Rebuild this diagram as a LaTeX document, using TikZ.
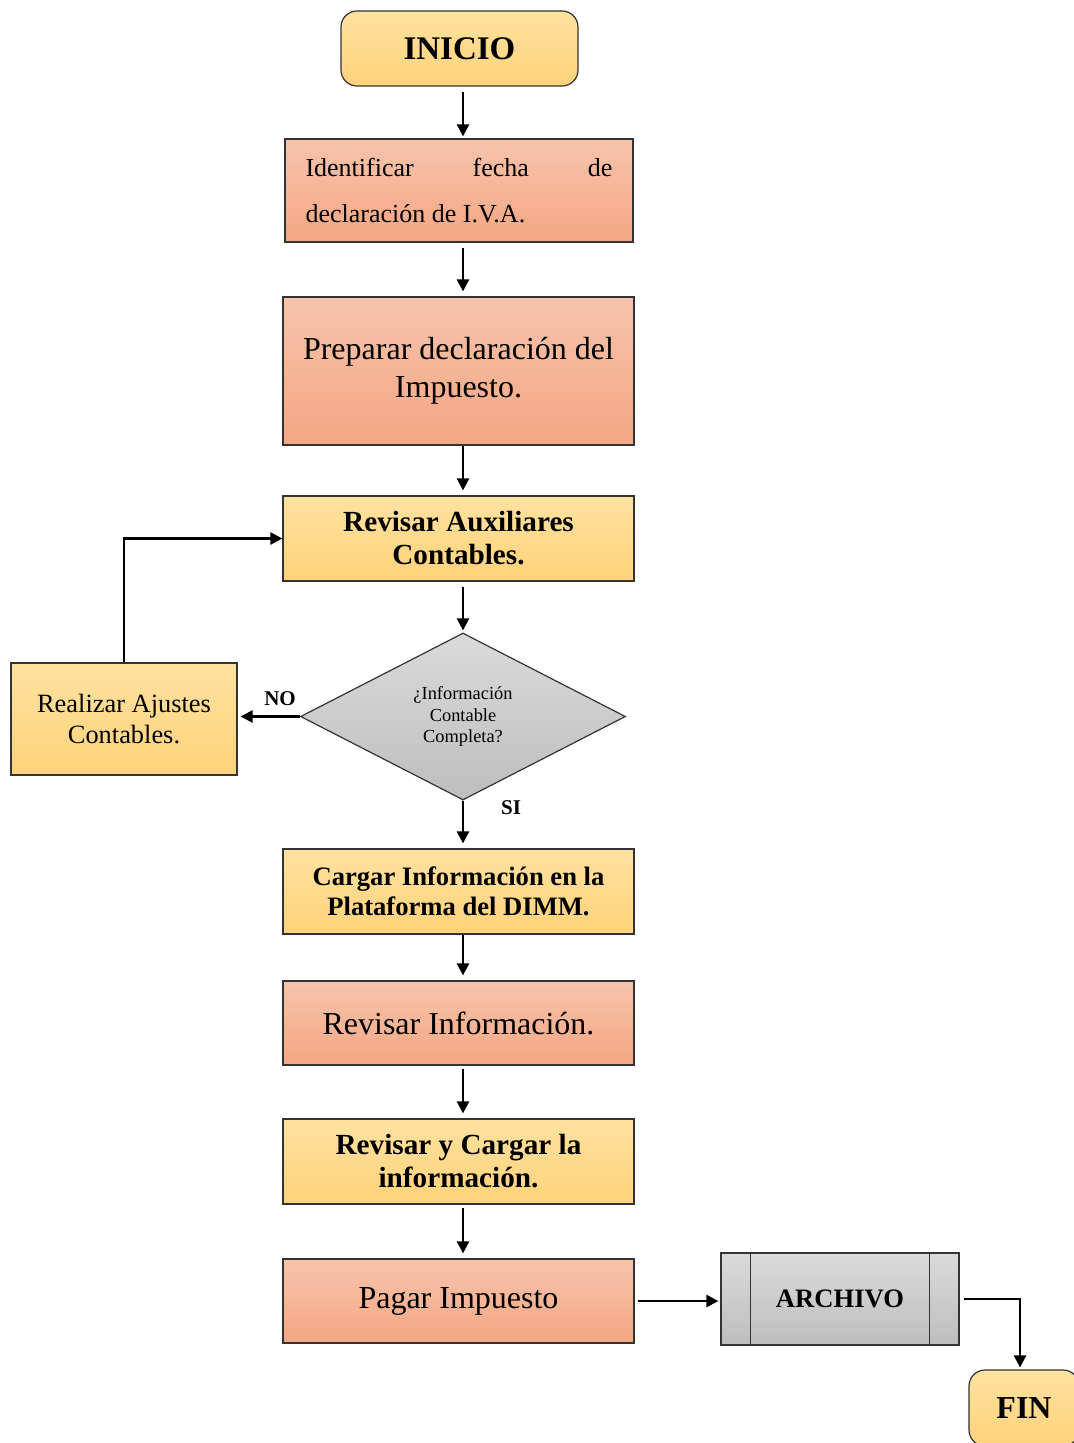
\documentclass[tikz,border=0pt]{standalone}
\usepackage{fontspec}
\setmainfont{Liberation Serif}
\usepackage{tikz}
\usetikzlibrary{shapes,arrows.meta,positioning,calc}

\definecolor{salmontop}{RGB}{247,196,172}
\definecolor{salmonbot}{RGB}{244,166,130}
\definecolor{yellowtop}{RGB}{255,226,160}
\definecolor{yellowbot}{RGB}{255,210,122}
\definecolor{graytop}{RGB}{218,218,218}
\definecolor{graybot}{RGB}{190,190,190}

\tikzset{
  box/.style={draw=black!80, line width=0.6pt, inner sep=0pt, align=center},
  salmonbox/.style={box, top color=salmontop, bottom color=salmonbot},
  yellowbox/.style={box, top color=yellowtop, bottom color=yellowbot},
  graybox/.style={box, top color=graytop, bottom color=graybot},
  wide/.style={minimum width=175.5pt},
  flecha/.style={line width=1.2pt, -{Triangle[length=6pt,width=6pt]}},
  etiqueta/.style={font=\fontsize{10.5}{12}\selectfont\bfseries}
}

\begin{document}
\begin{tikzpicture}[x=0.5pt,y=-0.5pt]
  \useasboundingbox (0,0) rectangle (1074,1443);

  % main column
  \node[yellowbox, rounded corners=8pt, minimum width=118.5pt, minimum height=37.5pt,
        font=\fontsize{16.5}{18}\selectfont\bfseries] (inicio) at (459.5,48.5) {INICIO};
  \node[salmonbox, minimum width=174pt, minimum height=51.5pt, text width=153.5pt, align=justify,
        font=\fontsize{13}{23}\selectfont] (fecha) at (459,190.5)
        {Identificar fecha de declaración de I.V.A.};
  \node[salmonbox, wide, minimum height=74pt, font=\fontsize{16}{19}\selectfont] (preparar) at (458.5,371)
        {Preparar declaración del\\Impuesto.};
  \node[yellowbox, wide, minimum height=42.5pt, font=\fontsize{14.6}{16.5}\selectfont\bfseries] (auxiliares) at (458.5,538.5)
        {Revisar Auxiliares\\Contables.};
  \node[diamond, graybox, minimum width=162.5pt, minimum height=83.5pt,
        font=\fontsize{9.2}{10.8}\selectfont] (completa) at (463,716.5)
        {¿Información\\Contable\\Completa?};
  \node[yellowbox, minimum width=113pt, minimum height=56pt, font=\fontsize{13.2}{15.5}\selectfont] (ajustes) at (124,719)
        {Realizar Ajustes\\Contables.};
  \node[yellowbox, wide, minimum height=42.5pt, font=\fontsize{13.3}{15}\selectfont\bfseries] (cargar) at (458.5,891.5)
        {Cargar Información en la\\Plataforma del DIMM.};
  \node[salmonbox, wide, minimum height=42pt, font=\fontsize{16}{18}\selectfont] (revinfo) at (458.5,1023)
        {Revisar Información.};
  \node[yellowbox, wide, minimum height=42.5pt, font=\fontsize{14.6}{16.5}\selectfont\bfseries] (revcargar) at (458.5,1161.5)
        {Revisar y Cargar la\\información.};
  \node[salmonbox, wide, minimum height=42pt, font=\fontsize{16}{18}\selectfont] (pagar) at (458.5,1301)
        {Pagar Impuesto};

  % archive and end
  \node[graybox, minimum width=119pt, minimum height=46pt, font=\fontsize{13.3}{15}\selectfont\bfseries] (archivo) at (840,1299)
        {ARCHIVO};
  \draw[black!80, line width=0.6pt] ([xshift=15pt]archivo.north west) -- ([xshift=15pt]archivo.south west);
  \draw[black!80, line width=0.6pt] ([xshift=-15pt]archivo.north east) -- ([xshift=-15pt]archivo.south east);
  \node[yellowbox, rounded corners=8pt, minimum width=55pt, minimum height=38pt,
        font=\fontsize{16}{18}\selectfont\bfseries] (fin) at (1024,1408) {FIN};

  % connectors
  \draw[flecha, shorten <=2.5pt, shorten >=1pt] (inicio.south -| completa) -- (fecha.north -| completa);
  \draw[flecha, shorten <=2.5pt, shorten >=2.5pt] (fecha.south -| completa) -- (preparar.north -| completa);
  \draw[flecha, shorten >=2.5pt] (preparar.south -| completa) -- (auxiliares.north -| completa);
  \draw[flecha, shorten <=2.5pt, shorten >=1pt] (auxiliares.south -| completa) -- (completa.north);
  \draw[flecha, shorten >=2.5pt] (completa.south) -- (cargar.north -| completa);
  \draw[flecha, shorten >=1.5pt] (completa.west) -- (completa.west -| ajustes.east);
  \draw[flecha] (ajustes.north) |- (auxiliares.west);
  \draw[flecha, shorten >=2.5pt] (cargar.south -| completa) -- (revinfo.north -| completa);
  \draw[flecha, shorten <=1.5pt, shorten >=2.5pt] (revinfo.south -| completa) -- (revcargar.north -| completa);
  \draw[flecha, shorten <=1.5pt, shorten >=2.5pt] (revcargar.south -| completa) -- (pagar.north -| completa);
  \draw[flecha, shorten <=1.5pt, shorten >=1pt] (pagar.east) -- (pagar.east -| archivo.west);
  \draw[flecha, shorten >=1pt] ([xshift=2pt]archivo.east) -| ([xshift=-2pt]fin.north);

  % branch labels
  \node[etiqueta] (no) at (280,699) {NO};
  \node[etiqueta] (si) at (511,808) {SI};
\end{tikzpicture}
\end{document}
